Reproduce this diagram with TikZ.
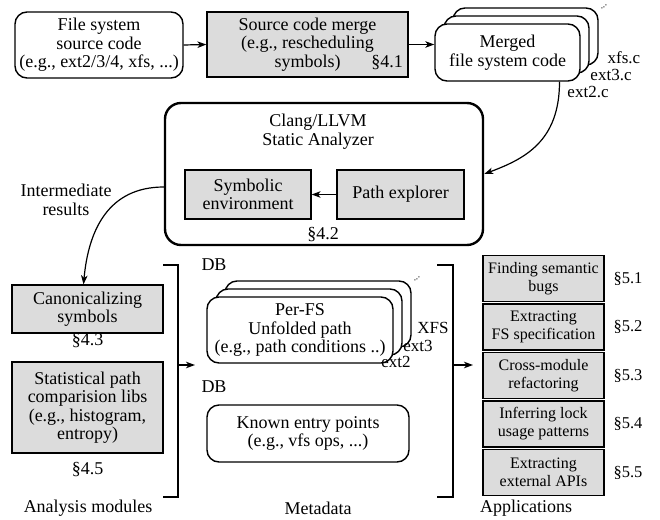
\documentclass[tikz,border=0pt]{standalone}
\usepackage{fontspec}
\setmainfont{Liberation Serif}
\usetikzlibrary{arrows.meta}
\definecolor{boxgray}{RGB}{220,220,220}
\begin{document}
\begin{tikzpicture}[x=1pt,y=-1pt,
  font=\fontsize{18}{18.5}\selectfont,
  line width=1.2pt,
  gbox/.style={draw, fill=boxgray, line width=1.2pt, inner sep=0pt, align=center},
  rbox/.style={draw, fill=white, rounded corners=12pt, line width=1.4pt, inner sep=0pt, align=center},
  appbox/.style={gbox, minimum width=121pt, minimum height=46pt, font=\fontsize{16}{18}\selectfont},
  sec/.style={inner sep=0pt, anchor=west, font=\fontsize{16.5}{18}\selectfont},
  arr/.style={-{Stealth[length=9pt,width=6.5pt,inset=2.5pt]}, line width=1.2pt},
  lbl/.style={inner sep=0pt, align=center},
  tag/.style={inner sep=0pt, font=\fontsize{17}{17}\selectfont},
  dots/.style={inner sep=0pt, rotate=40, font=\fontsize{10}{10}\selectfont}]
\useasboundingbox (0,0) rectangle (660,519);

% ---- top row: sources, merge, merged code ----
\node[rbox, minimum width=168pt, minimum height=66pt] (fs) at (99,45)
  {File system\\source code\\(e.g., ext2/3/4, xfs, ...)};
\node[gbox, minimum width=201pt, minimum height=65pt] (merge) at (307.5,44.5)
  {Source code merge\\(e.g., rescheduling\\symbols)};
\node[lbl] (s41) at (387,63) {\S4.1};

\node[rbox, minimum width=145pt, minimum height=57pt] (mback2) at (525.5,36.5) {};
\node[rbox, minimum width=145pt, minimum height=57pt] (mback1) at (516.5,44.5) {};
\node[rbox, minimum width=145pt, minimum height=57pt] (mfront) at (507.5,52.5)
  {Merged\\file system code};
\node[dots] (mdots) at (604,7) {...};
\node[tag] (xfsc) at (624,58) {xfs.c};
\node[tag] (ext3c) at (611,75) {ext3.c};
\node[tag] (ext2c) at (588,92) {ext2.c};

\draw[arr] (fs.east) -- (merge.west);
\draw[arr] (merge.east) -- (merge.east -| mfront.west);

% ---- static analyzer ----
\node[draw, rounded corners=16pt, line width=2.4pt, minimum width=318pt,
  minimum height=142pt, inner sep=0pt] (analyzer) at (324,174) {};
\node[lbl] (clang) at (318,131.5) {Clang/LLVM\\Static Analyzer};
\node[gbox, minimum width=126pt, minimum height=49pt] (symenv) at (248,194.5)
  {Symbolic\\environment};
\node[gbox, minimum width=127pt, minimum height=49pt] (pathex) at (400.5,194.5)
  {Path explorer};
\node[lbl] (s42) at (323,235) {\S4.2};
\draw[arr] (pathex.west) -- (symenv.east);

\draw[arr] ([xshift=52pt]mfront.south) .. controls +(0,60) and +(40,-15) .. (analyzer.east);

% ---- analysis modules ----
\node[gbox, minimum width=151pt, minimum height=48pt] (canon) at (87.5,309)
  {Canonicalizing\\symbols};
\node[lbl] (s43) at (87.5,341) {\S4.3};
\node[gbox, minimum width=151pt, minimum height=91pt] (stat) at (87.5,407.5)
  {Statistical path\\comparision libs\\(e.g., histogram,\\entropy)};
\node[lbl] (s45) at (87.5,470) {\S4.5};
\node[lbl] (inter) at (66,200) {Intermediate\\results};
\draw[arr] ([yshift=-13pt]analyzer.west) .. controls +(-55,0) and +(5,-55) .. ([xshift=-4pt]canon.north);

\coordinate (b1a) at (163,265);
\coordinate (b1b) at (178,265);
\coordinate (b1c) at (178,497);
\coordinate (b1d) at (163,497);
\coordinate (b1m) at (178,365);
\coordinate (b1t) at (195,365);
\draw (b1a) -- (b1b) -- (b1c) -- (b1d);
\draw[arr] (b1m) -- (b1t);

% ---- metadata ----
\node[lbl] (db1) at (214,265) {DB};
\node[rbox, minimum width=186pt, minimum height=66pt] (pback2) at (318,314) {};
\node[rbox, minimum width=186pt, minimum height=66pt] (pback1) at (309,322) {};
\node[rbox, minimum width=186pt, minimum height=66pt] (pfront) at (300,330)
  {Per-FS\\Unfolded path\\(e.g., path conditions ..)};
\node[dots] (pdots) at (417,279) {...};
\node[tag] (xfsl) at (433,328) {XFS};
\node[tag] (ext3l) at (418,346) {ext3};
\node[tag] (ext2l) at (396,362) {ext2};
\node[lbl] (db2) at (214,387) {DB};
\node[rbox, minimum width=202pt, minimum height=57pt] (known) at (308,433.5)
  {Known entry points\\(e.g., vfs ops, ...)};

\coordinate (b2a) at (437,265);
\coordinate (b2b) at (453,265);
\coordinate (b2c) at (453,497);
\coordinate (b2d) at (437,497);
\coordinate (b2m) at (453,365);
\coordinate (b2t) at (473,365);
\draw (b2a) -- (b2b) -- (b2c) -- (b2d);
\draw[arr] (b2m) -- (b2t);

% ---- applications ----
\node[appbox] (app1) at (543.5,278.5) {Finding semantic\\bugs};
\node[appbox] (app2) at (543.5,327) {Extracting\\FS specification};
\node[appbox] (app3) at (543.5,375.5) {Cross-module\\refactoring};
\node[appbox] (app4) at (543.5,424) {Inferring lock\\usage patterns};
\node[appbox] (app5) at (543.5,472.5) {Extracting\\external APIs};
\node[sec] (s51) at (613,278.5) {\S5.1};
\node[sec] (s52) at (613,327) {\S5.2};
\node[sec] (s53) at (613,375.5) {\S5.3};
\node[sec] (s54) at (613,424) {\S5.4};
\node[sec] (s55) at (613,472.5) {\S5.5};

% ---- column captions ----
\node[lbl] (capa) at (88,508) {Analysis modules};
\node[lbl] (capm) at (318,508) {Metadata};
\node[lbl] (capp) at (526,508) {Applications};
\end{tikzpicture}
\end{document}
